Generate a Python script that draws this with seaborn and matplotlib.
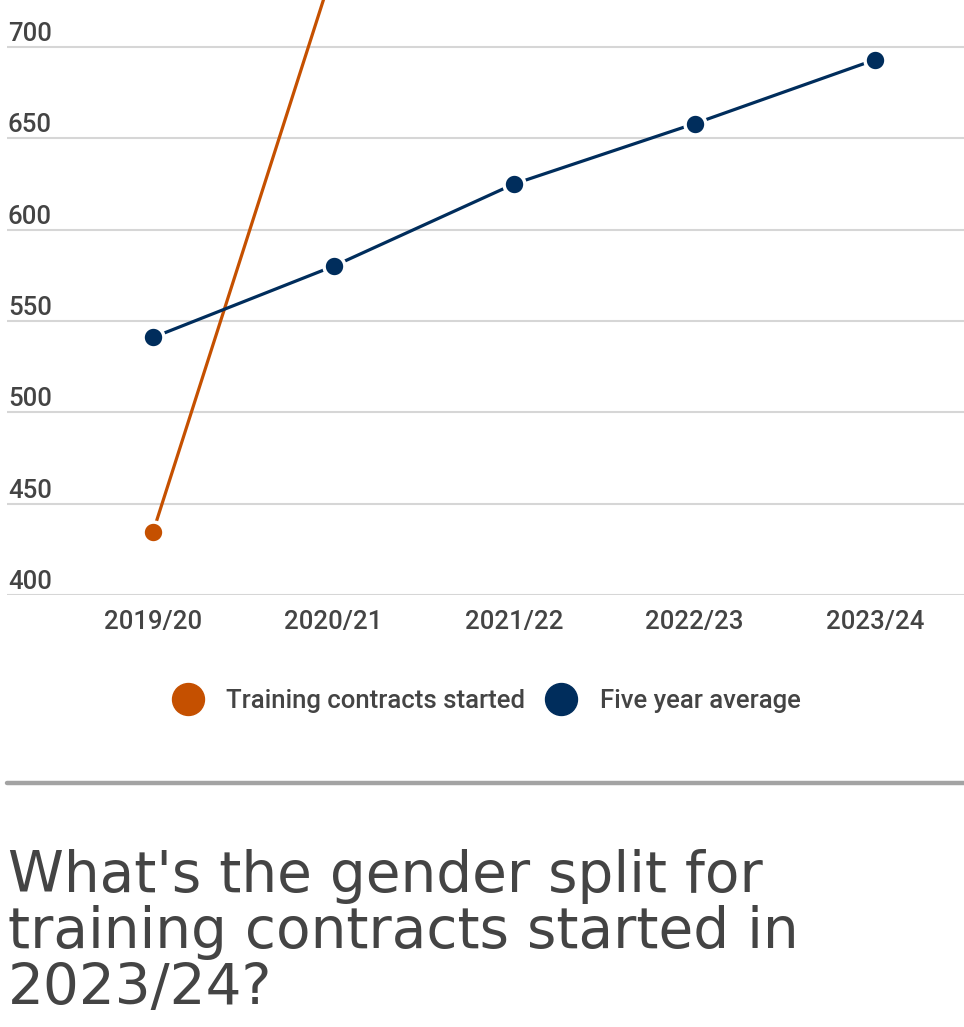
import matplotlib
matplotlib.use("Agg")
import matplotlib.pyplot as plt
from matplotlib.lines import Line2D
import pandas as pd
import seaborn as sns

years = ["2019/20", "2020/21", "2021/22", "2022/23", "2023/24"]
contracts_started = [434.5, 743, 770, 740, 774]
five_year_avg = [541, 580, 625, 658, 693]
series_names = ["Training contracts started", "Five year average"]
colors = {"Training contracts started": "#C55000", "Five year average": "#002D5C"}
y_ticks = [400, 450, 500, 550, 600, 650, 700]
heading = "What's the gender split for\ntraining contracts started in\n2023/24?"

df = pd.DataFrame({
    "year": years * 2,
    "value": contracts_started + five_year_avg,
    "series": [series_names[0]] * len(years) + [series_names[1]] * len(years),
})
df["x"] = df["year"].map({y: i for i, y in enumerate(years)})

sns.set_theme(style="white")
plt.rcParams["font.family"] = ["Roboto", "DejaVu Sans"]

W, H = 964, 1027
fig = plt.figure(figsize=(W / 100, H / 100), dpi=100)
ax = fig.add_axes([7 / W, 1 - 595 / H, 957 / W, 595 / H])

for name in series_names:
    sub = df[df["series"] == name]
    sns.lineplot(ax=ax, data=sub, x="x", y="value", color=colors[name],
                 linewidth=2.3, marker="o", markersize=15,
                 markeredgecolor="white", markeredgewidth=2.5, legend=False)

ax.set_xlim(-0.809, 4.493)
ax.set_ylim(400, 725.7)
ax.set_yticks(y_ticks)
ax.yaxis.grid(True, color="#d6d6d6", linewidth=1.5)
ax.set_axisbelow(True)
for s in ax.spines.values():
    s.set_visible(False)
ax.set_yticklabels([])
ax.tick_params(axis="both", length=0)
ax.set_xticks(range(len(years)))
ax.set_xticklabels(years, fontsize=18.5, color="#444444", fontweight="medium")
ax.tick_params(axis="x", pad=11)
ax.set_xlabel("")
ax.set_ylabel("")

for v in y_ticks:
    ax.text(0.001, v + 0.6, str(v), transform=ax.get_yaxis_transform(),
            ha="left", va="bottom", fontsize=18.5, color="#444444",
            fontweight="medium")

handles = [Line2D([], [], linestyle="none", marker="o", markersize=23,
                  markerfacecolor=colors[n], markeredgecolor=colors[n])
           for n in series_names]
fig.legend(handles, series_names, loc="center", bbox_to_anchor=(0.4995, 1 - 701 / H),
           ncol=2, frameon=False, handletextpad=0.5,
           columnspacing=0.4, labelcolor="#444444",
           prop={"size": 18.5, "weight": "medium"})

fig.add_artist(Line2D([7 / W, 1], [1 - 783 / H] * 2, color="#a3a3a3",
                      linewidth=3.2, transform=fig.transFigure))

fig.text(8 / W, 1 - 849 / H, heading, ha="left", va="top", fontsize=40.7,
         color="#444444", family="DejaVu Sans", linespacing=1.03)

fig.savefig("out.png", dpi=100)
